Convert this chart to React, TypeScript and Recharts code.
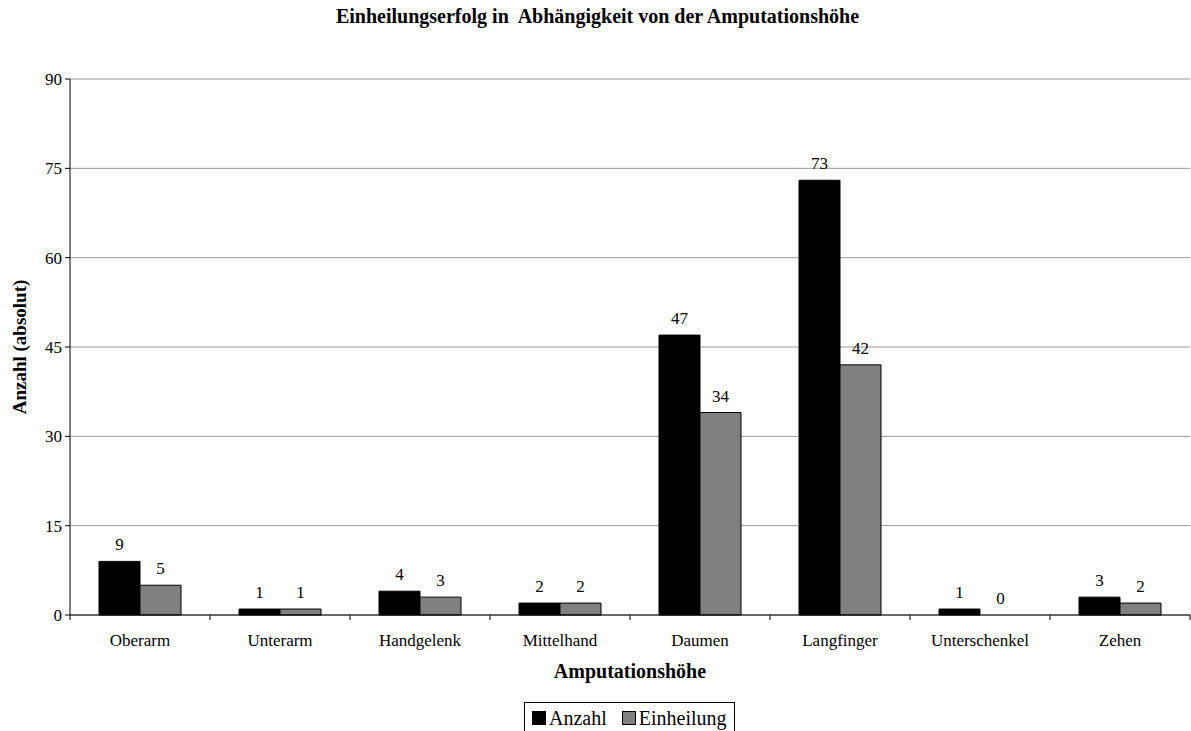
import { BarChart, Bar, XAxis, YAxis, CartesianGrid, LabelList, Legend, Rectangle } from 'recharts';

const categories = ['Oberarm', 'Unterarm', 'Handgelenk', 'Mittelhand', 'Daumen', 'Langfinger', 'Unterschenkel', 'Zehen'];
const anzahl = [9, 1, 4, 2, 47, 73, 1, 3];
const einheilung = [5, 1, 3, 2, 34, 42, 0, 2];
const yTicks = [0, 15, 30, 45, 60, 75, 90];

const data = categories.map((name, i) => ({ name, anzahl: anzahl[i], einheilung: einheilung[i] }));

const W = 1191;
const H = 731;
const LEFT = 70;
const RIGHT = 1;
const TOP = 79;
const BOTTOM = 116;
const BAND = (W - LEFT - RIGHT) / categories.length;
const FONT = "'Liberation Serif', 'DejaVu Serif', 'Times New Roman', Times, serif";

function CategoryTick(props: any) {
  const { x, y, payload, index } = props;
  return (
    <g>
      <line x1={x - BAND / 2} y1={y - 5} x2={x - BAND / 2} y2={y} stroke='#000' />
      {index === categories.length - 1 && (
        <line x1={x + BAND / 2} y1={y - 5} x2={x + BAND / 2} y2={y} stroke='#000' />
      )}
      <text x={x} y={y + 26} textAnchor='middle' fontSize={17} fontFamily={FONT} fill='#000'>
        {payload.value}
      </text>
    </g>
  );
}

// zero-height bars are kept for their label but not drawn
const BarShape = (props: any) => (props.height < 1 ? <g /> : <Rectangle {...props} />);

function LegendBox() {
  const item = (color: string, label: string, last: boolean) => (
    <span style={{ display: 'inline-flex', alignItems: 'center', marginRight: last ? 0 : 15 }}>
      <span
        style={{
          display: 'inline-block',
          width: 14,
          height: 14,
          background: color,
          border: '1px solid #000',
          marginRight: 3,
          boxSizing: 'border-box',
        }}
      />
      {label}
    </span>
  );
  return (
    <div
      style={{
        border: '1px solid #000',
        borderBottom: 'none',
        padding: '4px 7px 6px 7px',
        fontFamily: FONT,
        fontSize: 20,
        lineHeight: '22px',
        display: 'inline-block',
        color: '#000',
        background: '#fff',
        whiteSpace: 'nowrap',
      }}
    >
      {item('#000000', 'Anzahl', false)}
      {item('#808080', 'Einheilung', true)}
    </div>
  );
}

export default function App() {
  return (
    <div style={{ position: 'absolute', left: 0, top: 0, width: W, height: H, background: '#fff' }}>
      <div
        style={{
          position: 'absolute',
          top: 5,
          left: 0,
          width: 1195,
          textAlign: 'center',
          fontFamily: FONT,
          fontWeight: 'bold',
          fontSize: 20,
          whiteSpace: 'pre',
        }}
      >
        {'Einheilungserfolg in  Abhängigkeit von der Amputationshöhe'}
      </div>
      <BarChart
        width={W}
        height={H}
        data={data}
        margin={{ top: TOP, right: RIGHT, bottom: BOTTOM - 30, left: 0 }}
        barCategoryGap={29}
        barGap={0}
      >
        <CartesianGrid vertical={false} stroke='#999999' />
        <XAxis
          dataKey='name'
          height={30}
          interval={0}
          tickLine={false}
          tickSize={5}
          tickMargin={0}
          stroke='#000'
          tick={<CategoryTick />}
          label={{
            content: ({ viewBox }: any) => (
              <text
                x={viewBox.x + viewBox.width / 2}
                y={viewBox.y + 63}
                textAnchor='middle'
                fontSize={20}
                fontWeight='bold'
                fontFamily={FONT}
                fill='#000'
              >
                Amputationshöhe
              </text>
            ),
          }}
        />
        <YAxis
          width={LEFT}
          domain={[0, 90]}
          ticks={yTicks}
          interval={0}
          tickSize={5}
          tickMargin={3}
          stroke='#000'
          tick={{ fontSize: 17, fontFamily: FONT, fill: '#000' }}
          label={{
            content: ({ viewBox }: any) => {
              const cx = 19;
              const cy = viewBox.y + viewBox.height / 2;
              return (
                <text
                  x={cx}
                  y={cy}
                  transform={`rotate(-90, ${cx}, ${cy})`}
                  textAnchor='middle'
                  dominantBaseline='central'
                  fontSize={19}
                  fontWeight='bold'
                  fontFamily={FONT}
                  fill='#000'
                >
                  Anzahl (absolut)
                </text>
              );
            },
          }}
        />
        <Legend
          verticalAlign='middle'
          align='center'
          content={<LegendBox />}
          wrapperStyle={{ top: 702, left: 524, width: 'auto' }}
        />
        <Bar dataKey='anzahl' name='Anzahl' fill='#000000' stroke='#000' strokeWidth={1} minPointSize={0.01} shape={BarShape} isAnimationActive={false}>
          <LabelList dataKey='anzahl' position='top' offset={11} fontSize={17} fontFamily={FONT} fill='#000' />
        </Bar>
        <Bar dataKey='einheilung' name='Einheilung' fill='#808080' stroke='#000' strokeWidth={1} minPointSize={0.01} shape={BarShape} isAnimationActive={false}>
          <LabelList dataKey='einheilung' position='top' offset={11} fontSize={17} fontFamily={FONT} fill='#000' />
        </Bar>
      </BarChart>
    </div>
  );
}
